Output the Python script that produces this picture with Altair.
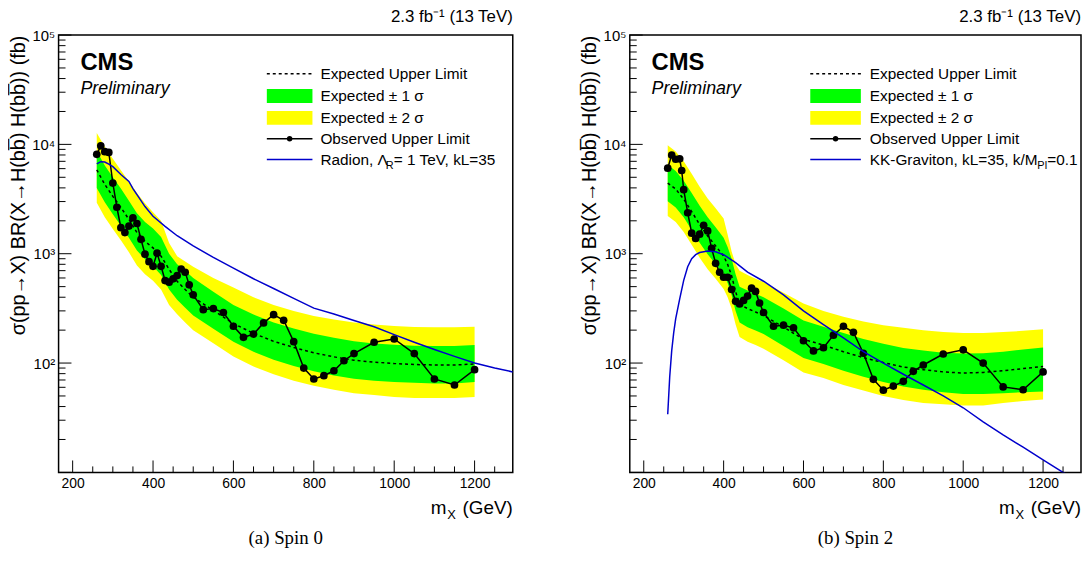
import altair as alt
import pandas as pd

# ---------------- data : (a) Spin 0 ----------------
obs_mass_a = [260, 270, 280, 290, 300, 310, 320, 330, 340, 350, 360, 370, 380, 390, 400,
              410, 420, 430, 440, 450, 460, 470, 480, 490, 500, 525, 550, 575, 600, 625,
              650, 675, 700, 725, 750, 775, 800, 825, 850, 875, 900, 950, 1000, 1050,
              1100, 1150, 1200]
obs_a = [8110, 9700, 8570, 8450, 4430, 2660, 1730, 1560, 1790, 2130, 1890, 1355, 990, 845, 767,
         1012, 767, 568, 549, 589, 631, 725, 677, 519, 421, 308, 315, 290, 217, 172,
         184, 233, 277, 246, 157, 90, 71.5, 76.6, 85, 105, 122, 155, 166, 122,
         71.5, 63, 87]

band_mass_a = [260, 280, 300, 320, 340, 360, 380, 400, 420, 440, 460, 480, 500, 550, 600,
               650, 700, 750, 800, 850, 900, 950, 1000, 1050, 1100, 1150, 1200]
exp_a = [5850, 4300, 3350, 2650, 2060, 1560, 1300, 1130, 950, 720, 560, 470, 400, 303, 230,
         187, 158, 139, 124, 114, 106, 102, 99, 97, 96, 96, 98]
p2_a = [12700, 9500, 7400, 5800, 4580, 3600, 2900, 2400, 2000, 1250, 950, 850, 760, 600, 490,
        400, 340, 300, 270, 250, 235, 225, 218, 214, 212, 212, 215]
p1_a = [8700, 6400, 5000, 3950, 3050, 2350, 1950, 1700, 1420, 1000, 800, 700, 600, 450, 340,
        278, 235, 207, 185, 170, 158, 151, 147, 144, 143, 143, 146]
m1_a = [4000, 2950, 2300, 1800, 1400, 1070, 890, 770, 640, 470, 380, 320, 272, 206, 157,
        127, 107, 94, 84, 77, 72, 69, 67, 66, 65, 65, 67]
m2_a = [2920, 2150, 1680, 1330, 1030, 780, 650, 565, 470, 340, 280, 235, 200, 152, 115,
        93, 79, 69, 62, 57, 53, 51, 49, 48, 48, 48, 49]

th_mass_a = [260, 270, 280, 290, 300, 320, 340, 350, 360, 380, 400, 430, 460, 500, 550, 600,
             650, 700, 750, 800, 850, 900, 950, 1000, 1050, 1100, 1150, 1200, 1250, 1295]
th_a = [6630, 6950, 6900, 6600, 6250, 5300, 4580, 3940, 3470, 2700, 2200, 1780, 1460, 1180,
        925, 738, 590, 481, 390, 318, 281, 245, 215, 182, 155, 133, 115, 100, 90, 83]

# ---------------- data : (b) Spin 2 ----------------
obs_mass_b = [260, 270, 280, 290, 295, 300, 310, 320, 330, 340, 350, 360, 370, 380, 390, 400,
              410, 420, 430, 440, 450, 460, 470, 480, 490, 500, 525, 550, 575, 600, 625,
              650, 675, 700, 725, 750, 775, 800, 825, 850, 875, 900, 950, 1000, 1050,
              1100, 1150, 1200]
obs_b = [6060, 8000, 7310, 7370, 5770, 3850, 2370, 1540, 1377, 1510, 1820, 1615, 1120, 817, 677,
         609, 609, 471, 367, 347, 374, 410, 484, 452, 354, 290, 217, 222, 210, 160, 129,
         138, 180, 217, 191, 123, 71, 56.5, 61.6, 68, 84, 96, 121, 132, 100,
         60.5, 57, 83]

band_mass_b = [260, 280, 300, 320, 340, 360, 380, 400, 410, 420, 430, 440, 460, 480, 500,
               550, 600, 650, 700, 750, 800, 850, 900, 950, 1000, 1050, 1100, 1150, 1200]
exp_b = [4430, 3900, 3150, 2430, 1850, 1450, 1180, 950, 800, 630, 450, 345, 315, 293, 272,
         213, 165, 146, 127, 112, 101, 92, 87, 83, 81, 82, 85, 89, 93]
p2_b = [9800, 8600, 7000, 5400, 4100, 3200, 2600, 2100, 1500, 1050, 800, 700, 640, 590, 550,
        440, 350, 300, 265, 240, 222, 210, 200, 192, 188, 188, 192, 197, 204]
p1_b = [6500, 5700, 4650, 3600, 2750, 2150, 1750, 1400, 1150, 900, 650, 500, 460, 430, 400,
        315, 245, 215, 188, 166, 150, 137, 130, 124, 122, 123, 127, 133, 139]
m1_b = [3020, 2650, 2150, 1650, 1260, 990, 800, 650, 540, 420, 300, 235, 212, 198, 184,
        143, 111, 98, 85, 75, 67, 61, 57, 54, 52, 52, 53, 54, 55]
m2_b = [2210, 1950, 1580, 1210, 920, 720, 590, 475, 400, 315, 225, 173, 157, 146, 135,
        106, 82, 73, 63, 56, 50, 46, 43, 42, 41, 41, 43, 45, 46.5]

th_mass_b = [260, 265, 270, 275, 280, 290, 300, 310, 320, 330, 340, 360, 380, 400, 430, 460,
             500, 550, 600, 650, 700, 750, 800, 850, 900, 950, 1000, 1050, 1100, 1150, 1200,
             1250, 1295]
th_b = [34, 75, 130, 190, 255, 387, 570, 760, 900, 980, 1025, 1060, 1040, 980, 830, 680,
        560, 420, 300, 225, 170, 127, 100, 79, 63, 50, 39, 29, 22, 17, 13, 10, 8]

# ---------------- axes ----------------
x_major = [200, 400, 600, 800, 1000, 1200]
x_minor = [250, 300, 350, 450, 500, 550, 650, 700, 750, 850, 900, 950, 1050, 1100, 1150, 1250]
y_major = [10, 100, 1000, 10000, 100000]
y_minor = [20, 30, 40, 50, 60, 70, 80, 90,
           200, 300, 400, 500, 600, 700, 800, 900,
           2000, 3000, 4000, 5000, 6000, 7000, 8000, 9000,
           20000, 30000, 40000, 50000, 60000, 70000, 80000, 90000]
y_labels = [100, 1000, 10000, 100000]

legend_a = ["Expected Upper Limit", "Expected \u00b1 1 \u03c3", "Expected \u00b1 2 \u03c3",
            "Observed Upper Limit"]
YTITLE = "\u03c3(pp\u2192X) BR(X\u2192H(bb\u0305) H(bb\u0305)) (fb)"

FONT = "Liberation Sans"
SERIF = "Liberation Serif"
W_A, W_B, H = 458, 455, 441
XDOM = [165, 1295]
YDOM = [10, 100000]
ROWS = [39, 61.5, 83.5, 104.5, 125.5]
LFS = 15.5


def one():
    return alt.InlineData(values=[{"k": 0}])


def txt(text, x, y, size, align="left", weight="normal", style="normal", font=FONT):
    return alt.Chart(one()).mark_text(
        text=text, align=align, baseline="alphabetic", fontSize=size, font=font,
        fontWeight=weight, fontStyle=style, color="black"
    ).encode(x=alt.value(x), y=alt.value(y))


def panel(W, band_mass, exp, m1, p1, m2, p2, obs_mass, obs, th_mass, th,
          theory_pieces, caption, sx0, sx1, tx):
    xs = alt.Scale(domain=XDOM, nice=False, zero=False)
    ys = alt.Scale(type="log", domain=YDOM, nice=False)
    xaxis = alt.Axis(values=x_major, ticks=False, domain=False, grid=False, format="d",
                     labelPadding=4, labelFontSize=14, labelFont=FONT,
                     labelColor="black", title=None, labelFlush=False)
    yaxis = alt.Axis(values=y_labels, ticks=False, domain=False, grid=False,
                     labelExpr="datum.value == 100 ? '10\u00b2' : datum.value == 1000 ? '10\u00b3' : datum.value == 10000 ? '10\u2074' : '10\u2075'",
                     labelPadding=4, labelFontSize=15, labelFont=FONT, labelColor="black",
                     title=YTITLE, titleAnchor="end", titlePadding=3, titleFontSize=20,
                     titleFont=FONT, titleFontWeight="normal", titleColor="black")

    bands = pd.DataFrame({"mass": band_mass, "exp": exp, "m1": m1, "p1": p1,
                          "m2": m2, "p2": p2})
    obsdf = pd.DataFrame({"mass": obs_mass, "obs": obs})
    thdf = pd.DataFrame({"mass": th_mass, "th": th})

    X = alt.X("mass:Q", scale=xs, axis=xaxis)
    layers = []
    layers.append(alt.Chart(bands).mark_area(color="#ffff00").encode(
        x=X, y=alt.Y("p2:Q", scale=ys, axis=yaxis), y2="m2:Q"))
    layers.append(alt.Chart(bands).mark_area(color="#00ff00").encode(
        x=X, y=alt.Y("p1:Q", scale=ys, axis=yaxis), y2="m1:Q"))
    layers.append(alt.Chart(bands).mark_line(color="black", strokeWidth=1.5,
                                             strokeDash=[3, 3]).encode(
        x=X, y=alt.Y("exp:Q", scale=ys, axis=yaxis)))
    layers.append(alt.Chart(obsdf).mark_line(color="black", strokeWidth=1.5).encode(
        x=X, y=alt.Y("obs:Q", scale=ys, axis=yaxis)))
    layers.append(alt.Chart(obsdf).mark_point(filled=True, color="black", size=60,
                                              opacity=1).encode(
        x=X, y=alt.Y("obs:Q", scale=ys, axis=yaxis)))
    layers.append(alt.Chart(thdf).mark_line(color="#0000cc", strokeWidth=1.5,
                                            clip=True).encode(
        x=X, y=alt.Y("th:Q", scale=ys, axis=yaxis)))

    # inward ticks
    layers.append(alt.Chart(pd.DataFrame({"v": y_major})).mark_rule(
        color="black", strokeWidth=1).encode(
        y=alt.Y("v:Q", scale=ys, axis=yaxis), x=alt.value(0), x2=alt.value(13)))
    layers.append(alt.Chart(pd.DataFrame({"v": y_minor})).mark_rule(
        color="black", strokeWidth=1).encode(
        y=alt.Y("v:Q", scale=ys, axis=yaxis), x=alt.value(0), x2=alt.value(7)))
    layers.append(alt.Chart(pd.DataFrame({"v": x_major})).mark_rule(
        color="black", strokeWidth=1).encode(
        x=alt.X("v:Q", scale=xs, axis=xaxis), y=alt.value(H), y2=alt.value(H - 12)))
    layers.append(alt.Chart(pd.DataFrame({"v": x_minor})).mark_rule(
        color="black", strokeWidth=1).encode(
        x=alt.X("v:Q", scale=xs, axis=xaxis), y=alt.value(H), y2=alt.value(H - 6)))

    # legend
    sxm = (sx0 + sx1) / 2
    layers.append(alt.Chart(one()).mark_rule(color="black", strokeWidth=1.5,
                                             strokeDash=[3, 3]).encode(
        x=alt.value(sx0), x2=alt.value(sx1), y=alt.value(ROWS[0])))
    layers.append(alt.Chart(one()).mark_rect(color="#00ff00").encode(
        x=alt.value(sx0), x2=alt.value(sx1), y=alt.value(ROWS[1] - 7), y2=alt.value(ROWS[1] + 7)))
    layers.append(alt.Chart(one()).mark_rect(color="#ffff00").encode(
        x=alt.value(sx0), x2=alt.value(sx1), y=alt.value(ROWS[2] - 7), y2=alt.value(ROWS[2] + 7)))
    layers.append(alt.Chart(one()).mark_rule(color="black", strokeWidth=1.5).encode(
        x=alt.value(sx0), x2=alt.value(sx1), y=alt.value(ROWS[3])))
    layers.append(alt.Chart(one()).mark_point(filled=True, color="black", size=30,
                                              opacity=1).encode(
        x=alt.value(sxm), y=alt.value(ROWS[3])))
    layers.append(alt.Chart(one()).mark_rule(color="#0000cc", strokeWidth=1.5).encode(
        x=alt.value(sx0), x2=alt.value(sx1), y=alt.value(ROWS[4])))
    for i, t in enumerate(legend_a):
        layers.append(txt(t, tx, ROWS[i] + 5.5, LFS))
    for (t, dx, size, dy) in theory_pieces:
        layers.append(txt(t, tx + dx, ROWS[4] + 5.5 + dy, size))

    # labels
    layers.append(txt("2.3 fb\u207b\u00b9 (13 TeV)", W, -13, 17, align="right"))
    layers.append(txt("CMS", 22, 35, 24, weight="bold"))
    layers.append(txt("Preliminary", 22, 59, 18, style="italic"))
    layers.append(txt("(GeV)", W, H + 42, 19, align="right"))
    layers.append(txt("X", W - 66, H + 47, 13))
    layers.append(txt("m", W - 67, H + 42, 19, align="right"))
    layers.append(txt(caption, W / 2, H + 72, 19, align="center", font=SERIF))

    return alt.layer(*layers).properties(width=W, height=H)


theory_a = [("Radion, \u039b", 0, LFS, 0), ("R", 66, 11, 4), ("= 1 TeV, kL=35", 74, LFS, 0)]
theory_b = [("KK-Graviton, kL=35, k/M", 0, LFS, 0), ("Pl", 169, 11, 4), ("=0.1", 179, LFS, 0)]

left = panel(W_A, band_mass_a, exp_a, m1_a, p1_a, m2_a, p2_a, obs_mass_a, obs_a,
             th_mass_a, th_a, theory_a, "(a) Spin 0", 210, 256, 264)
right = panel(W_B, band_mass_b, exp_b, m1_b, p1_b, m2_b, p2_b, obs_mass_b, obs_b,
              th_mass_b, th_b, theory_b, "(b) Spin 2", 182, 233, 242)

chart = alt.hconcat(left, right, spacing=66).properties(
    padding={"left": 0, "top": -3, "right": 0, "bottom": 0}
).configure_view(stroke="black", strokeWidth=1.5)

chart.save("out.html", embed_options={"renderer": "svg", "actions": False})
